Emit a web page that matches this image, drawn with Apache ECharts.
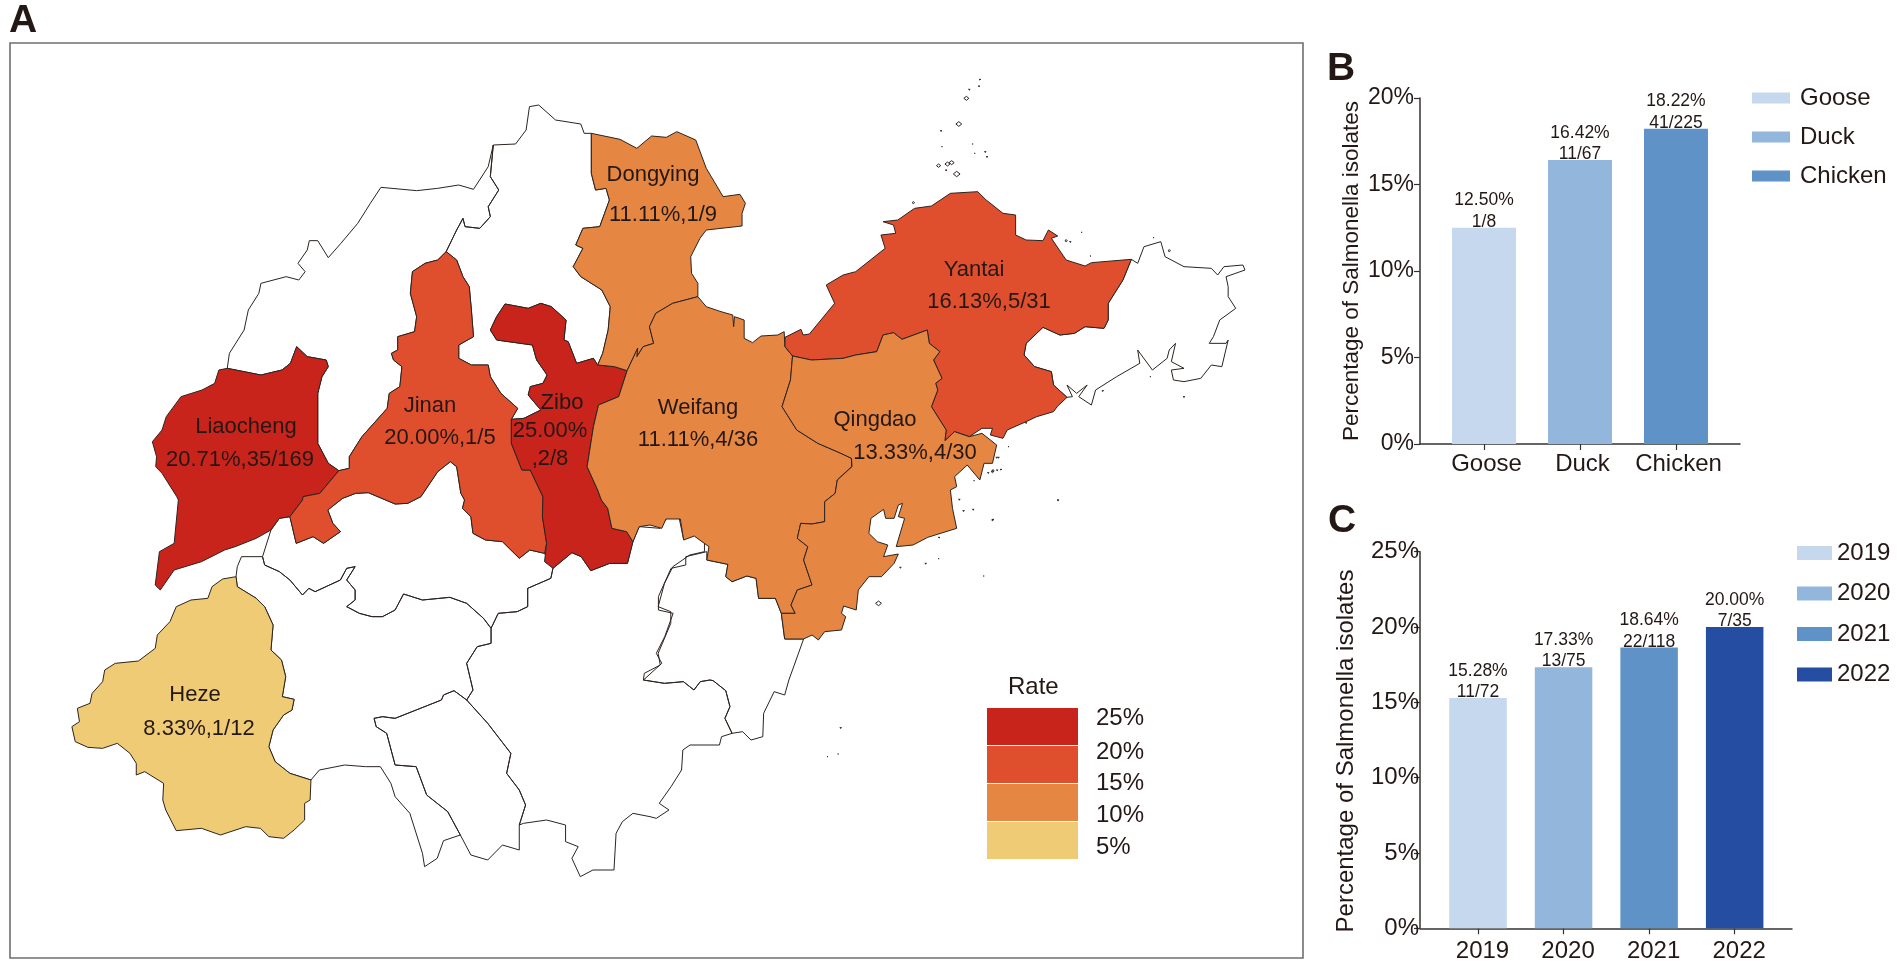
<!DOCTYPE html>
<html><head><meta charset="utf-8">
<script src="https://cdn.jsdelivr.net/npm/echarts@6/dist/echarts.min.js"></script>
<style>html,body{margin:0;padding:0;background:#fff}#c{width:1897px;height:969px}</style>
</head><body><div id="c"></div>
<script>
// ---------- chart values ----------
const cities = ['Liaocheng','Jinan','Zibo','Dongying','Weifang','Yantai','Qingdao','Heze'];
const cityRates = [20.71,20.00,25.00,11.11,11.11,16.13,13.33,8.33];
const cityTexts = [['20.71%,35/169'],['20.00%,1/5'],['25.00%',',2/8'],['11.11%,1/9'],['11.11%,4/36'],['16.13%,5/31'],['13.33%,4/30'],['8.33%,1/12']];
const rateLegendTicks = ['25%','20%','15%','10%','5%'];
const hostCategories = ['Goose','Duck','Chicken'];
const hostValues = [12.50,16.42,18.22];
const hostCounts = ['1/8','11/67','41/225'];
const yearCategories = ['2019','2020','2021','2022'];
const yearValues = [15.28,17.33,18.64,20.00];
const yearCounts = ['11/72','13/75','22/118','7/35'];
const hostColors = ['#C5D8EE','#93B6DD','#5F93C8'];
const yearColors = ['#C5D8EE','#93B6DD','#5F93C8','#254EA2'];
const rateColors = ['#C8241C','#DF4F2E','#E58642','#EFCB75'];

// ---------- base map outline (traced, in picture space) ----------
const C1=[0,0],C2=[620,50],C3=[50,500],C4=[650,450];
const P=(c,pts)=>pts.map(([x,y])=>[c[0]+x/2.376,c[1]+y/3]);
const frame=[[10,43],[1303,43],[1303,958],[10,958]];
const outline={
 Dezhou:[...P(C1,[[540,1105],[545,1060],[580,990],[590,930],[615,880],[620,850],[680,830],[710,840],[725,815],[708,790],[730,750],[735,722],[755,722],[780,773],[810,730],[850,670],[880,610],[905,562],[990,572],[1040,565],[1090,555],[1125,568],[1160,500],[1172,435],[1165,530],[1185,570],[1160,620],[1165,650],[1140,685],[1105,680],[1100,655],[1085,690],[1060,755],[1040,780],[1010,790],[980,815],[975,880],[990,950],[985,995],[945,1010],[945,1050],[930,1060],[935,1080],[955,1100],[950,1160],[925,1180],[920,1225],[860,1310],[830,1370],[830,1405],[805,1412],[780,1390],[755,1330],[755,1180],[765,1130],[780,1100],[775,1080],[730,1070],[705,1040],[690,1090],[670,1110],[620,1125]])],
 Binzhou:[...P(C1,[[1172,435],[1225,432],[1250,390],[1258,320],[1280,315],[1320,360],[1380,372],[1388,400],[1405,400],[1405,520],[1415,570],[1440,565],[1448,600],[1425,680],[1385,685],[1368,735],[1385,745],[1362,800],[1380,830],[1430,870],[1450,920],[1445,990],[1432,1060],[1420,1095],[1410,1075],[1370,1090],[1350,1025],[1340,1020],[1345,960],[1310,920],[1285,910],[1255,925],[1200,912],[1180,950],[1165,990],[1180,1020],[1265,1035],[1275,1080],[1300,1125],[1290,1150],[1260,1160],[1255,1185],[1285,1230],[1245,1255],[1215,1258],[1230,1225],[1190,1180],[1165,1130],[1160,1095],[1120,1095],[1090,1075],[1090,1035],[1125,1010],[1120,930],[1115,860],[1100,830],[1085,780],[1060,755],[1085,690],[1100,655],[1105,680],[1140,685],[1165,650],[1160,620],[1185,570],[1165,530]])],
 Taian:[...P(C3,[[525,90],[505,170],[510,195],[545,215],[570,240],[600,285],[615,265],[630,275],[690,240],[705,205],[725,200],[705,240],[725,270],[725,300],[705,320],[735,340],[765,350],[790,350],[820,330],[840,282],[885,300],[950,292],[990,310],[1030,355],[1048,385],[1065,340],[1110,335],[1135,320],[1135,265],[1190,235],[1195,205],[1175,160],[1140,150],[1115,175],[1075,125],[1035,120],[1005,100],[1000,50],[980,25],[985,0]]),...P(C1,[[1095,1480],[1085,1400],[1070,1385],[1040,1415],[1000,1490]]),...P(C3,[[850,10],[820,12]]),...P(C1,[[875,1478],[845,1480],[814,1495]]),...P(C3,[[660,30],[672,70],[690,95],[650,130],[625,110],[585,130],[570,50],[545,55]])],
 Jining:[...P(C3,[[442,230],[445,200],[455,170],[505,170],[510,195],[545,215],[570,240],[600,285],[615,265],[630,275],[690,240],[705,205],[725,200],[705,240],[725,270],[725,300],[705,320],[735,340],[765,350],[790,350],[820,330],[840,282],[885,300],[950,292],[990,310],[1030,355],[1048,385],[1048,430],[1015,440],[990,490],[1005,570],[990,600],[960,572],[935,585],[930,600],[870,630],[820,655],[790,650],[770,655],[775,680],[800,700],[820,795],[870,800],[895,885],[945,935],[975,1005],[935,1022],[920,1075],[890,1100],[885,1060],[855,940],[820,890],[810,850],[785,800],[750,800],[700,795],[640,810],[620,840],[570,820],[535,785],[520,740],[530,690],[555,645],[575,630],[580,598],[552,590],[560,530],[550,480],[525,450],[530,375],[510,320],[490,295],[445,260]])],
 Zaozhuang:[...P(C3,[[990,600],[1040,670],[1095,760],[1085,820],[1115,870],[1130,915],[1115,975],[1115,1050],[1075,1035],[1040,1080],[1000,1065],[975,1005],[945,935],[895,885],[870,800],[820,795],[800,700],[775,680],[770,655],[790,650],[820,655],[870,630],[930,600],[935,585],[960,572]])],
 Linyi:[...P(C3,[[1048,385],[1065,340],[1110,335],[1135,320],[1135,265],[1190,235],[1195,205],[1240,158],[1262,170],[1285,212],[1330,190],[1372,190],[1385,125],[1400,80],[1450,85],[1465,55],[1495,55],[1505,115],[1530,105],[1555,125],[1555,155],[1520,165],[1480,200],[1460,250],[1445,320],[1475,335],[1475,370],[1445,460],[1450,495],[1412,520],[1410,540],[1460,550],[1505,545],[1530,570],[1545,545],[1568,540]]),...P(C4,[[150,692],[180,722],[190,770],[178,805],[195,850],[170,860],[165,885],[95,885],[78,900],[75,960],[50,1010],[22,1060],[45,1080],[15,1105],[0,1100]]),...P(C3,[[1385,940],[1360,965],[1345,1000],[1340,1110],[1290,1110],[1260,1130],[1240,1075],[1255,1040],[1225,1025],[1225,975],[1180,960],[1125,970],[1115,975],[1130,915],[1115,870],[1085,820],[1095,760],[1040,670],[990,600],[1005,570],[990,490],[1015,440],[1048,430]])],
 Rizhao:[...P(C4,[[135,305],[85,320],[85,345],[50,355],[20,440],[20,480],[55,490],[35,560],[15,610],[28,640]]),...P(C3,[[1410,540],[1460,550],[1505,545],[1530,570],[1545,545],[1568,540]]),...P(C4,[[150,692],[180,722],[190,770],[178,805],[195,850],[220,845],[240,870],[268,860],[270,790],[295,725],[320,735],[330,690],[365,567],[320,567],[312,490],[298,445],[258,445],[252,385],[230,378],[195,395],[180,380],[185,343],[135,330]])],
 Weihai:[...P(C2,[[1215,628],[1230,640],[1245,590],[1285,575],[1295,620],[1340,650],[1405,655],[1420,675],[1435,650],[1480,645],[1485,660],[1440,680],[1445,710],[1445,740],[1463,775],[1425,810],[1410,860],[1400,880],[1440,880],[1445,870],[1430,950],[1405,945],[1380,985],[1340,995],[1315,990],[1310,960],[1340,955],[1310,935],[1320,880],[1305,900],[1300,925],[1265,960],[1230,900],[1235,940],[1180,980],[1130,1020],[1120,1065],[1090,1040],[1110,1005],[1085,1030],[1062,1005],[1075,1040],[1062,1042],[1030,1005],[1025,965],[985,950],[960,915],[965,880],[1005,832],[1045,855],[1080,850],[1105,830],[1150,835],[1160,810],[1160,760],[1195,690]])],
 Liaocheng:[...P(C1,[[705,1040],[730,1070],[775,1080],[780,1100],[765,1130],[755,1180],[755,1330],[780,1390],[805,1412],[760,1480],[720,1490]]),...P(C3,[[600,0],[570,50],[545,55],[525,90],[490,115],[440,140],[415,150],[360,185],[295,210],[262,270],[250,255],[260,155],[295,130],[305,0]]),...P(C1,[[420,1490],[385,1420],[370,1400],[372,1370],[362,1325],[385,1290],[395,1250],[430,1190],[480,1170],[510,1150],[520,1110],[540,1105],[620,1125],[670,1110],[690,1090]])],
 Jinan:[...P(C1,[[1060,755],[1085,780],[1100,830],[1115,860],[1120,930],[1125,1010],[1090,1035],[1090,1075],[1120,1095],[1160,1095],[1165,1130],[1190,1180],[1230,1225],[1215,1258],[1215,1330],[1240,1410],[1260,1410],[1290,1490]]),...P(C3,[[1170,50],[1180,130],[1175,160],[1140,150],[1115,175],[1075,125],[1035,120],[1005,100],[1000,50],[980,25],[985,0]]),...P(C1,[[1095,1480],[1085,1400],[1070,1385],[1040,1415],[1000,1490]]),...P(C3,[[850,10],[820,12]]),...P(C1,[[875,1478],[845,1480],[814,1495]]),...P(C3,[[660,30],[672,70],[690,95],[650,130],[625,110],[585,130],[570,50],[600,0]]),...P(C1,[[720,1490],[760,1480],[805,1412],[830,1405],[830,1370],[860,1310],[920,1225],[925,1180],[950,1160],[955,1100],[935,1080],[930,1060],[945,1050],[945,1010],[985,995],[990,950],[975,880],[980,815],[1010,790],[1040,780]])],
 Zibo:[...P(C1,[[1490,1112],[1460,1100],[1420,1095],[1410,1075],[1370,1090],[1350,1025],[1340,1020],[1345,960],[1310,920],[1285,910],[1255,925],[1200,912],[1180,950],[1165,990],[1180,1020],[1265,1035],[1275,1080],[1300,1125],[1290,1150],[1260,1160],[1255,1185],[1285,1230],[1245,1255],[1215,1258],[1215,1330],[1240,1410],[1260,1410],[1290,1490]]),...P(C3,[[1170,50],[1180,130],[1175,185],[1195,205],[1240,158],[1262,170],[1285,212],[1330,190],[1372,190],[1385,125],[1370,95],[1335,85],[1325,25],[1310,0]]),...P(C1,[[1420,1470],[1395,1400],[1410,1280],[1422,1215],[1470,1190]])],
 Dongying:[...P(C1,[[1405,400],[1405,520],[1415,570],[1440,565],[1448,600],[1425,680],[1385,685],[1368,735],[1385,745],[1362,800],[1380,830],[1430,870],[1450,920],[1445,990],[1432,1060],[1420,1095],[1460,1100],[1490,1112],[1515,1045]]),...P(C2,[[40,920],[55,890],[80,880],[70,830],[85,790],[125,760],[185,740],[185,700],[170,670],[168,620],[190,565],[205,540],[290,528],[290,490],[298,460],[285,433],[245,440],[205,355],[180,270],[135,245],[110,262],[75,258],[40,295],[0,268]])],
 Weifang:[...P(C2,[[185,740],[205,770],[240,785],[268,795],[270,830],[272,800],[295,810],[295,865],[315,878],[335,858],[375,855],[390,845],[392,890],[410,918],[405,990],[385,1070],[420,1140],[470,1180],[525,1210],[550,1225],[550,1250]]),...P(C4,[[480,50],[445,90],[440,130],[415,155],[415,215],[385,222],[358,220],[350,265],[375,290],[365,330],[385,405],[350,420],[335,465],[345,490],[312,490],[298,445],[258,445],[252,385],[230,378],[195,395],[180,380],[185,343],[135,330],[140,290],[105,258],[80,270],[72,207],[38,207],[28,235],[0,225]]),...P(C3,[[1400,80],[1385,125],[1370,95],[1335,85],[1325,25],[1310,0]]),...P(C1,[[1420,1470],[1395,1400],[1410,1280],[1422,1215],[1470,1190],[1490,1112],[1515,1045]]),...P(C2,[[40,920],[55,890],[80,880],[70,830],[85,790],[125,760]])],
 Yantai:[...P(C2,[[392,862],[430,838],[435,855],[450,852],[510,760],[490,705],[530,675],[560,665],[630,595],[620,555],[655,550],[650,525],[625,515],[660,510],[700,475],[740,468],[785,430],[850,425],[870,450],[910,490],[940,495],[940,555],[965,570],[1005,572],[1018,540],[1040,558],[1025,565],[1060,630],[1105,648],[1120,638],[1215,628],[1195,690],[1160,760],[1160,810],[1150,835],[1105,830],[1080,850],[1045,855],[1005,832],[965,880],[960,915],[985,950],[1025,965],[1030,1005],[1062,1042],[1040,1068],[1030,1085],[990,1100],[965,1115],[920,1140],[910,1165],[880,1155],[885,1135],[860,1135],[830,1160],[795,1145],[772,1172],[775,1140],[740,1070],[755,1020],[750,1000],[765,985],[745,930],[760,905],[735,880],[730,840],[670,868],[650,848],[625,855],[610,905],[560,915],[530,925],[455,930],[410,918],[392,890]])],
 Qingdao:[...P(C2,[[410,918],[455,930],[530,925],[560,915],[610,905],[625,855],[650,848],[670,868],[730,840],[735,880],[760,905],[745,930],[765,985],[750,1000],[755,1020],[740,1070],[775,1140],[772,1172],[795,1145],[830,1160],[860,1150],[895,1185],[885,1240],[865,1240],[855,1290],[825,1245],[795,1280],[800,1310],[785,1320],[790,1375],[800,1435]]),...P(C4,[[660,262],[625,285],[585,290],[605,205],[590,200],[600,160],[590,165],[580,205],[560,205],[555,178],[525,205],[520,250],[540,275],[565,285],[555,320],[590,312],[580,340],[550,380],[520,380],[495,420],[490,480],[460,468],[455,490],[465,500],[455,540],[415,545],[400,570],[385,555],[365,567],[320,567],[312,490],[345,490],[335,465],[350,420],[385,405],[365,330],[375,290],[350,265],[358,220],[385,222],[415,215],[415,155],[440,130],[445,90],[480,50]]),...P(C2,[[550,1250],[550,1225],[525,1210],[470,1180],[420,1140],[385,1070],[405,990]])],
 Heze:[...P(C3,[[442,230],[445,260],[490,295],[510,320],[530,375],[525,450],[550,480],[560,530],[552,590],[580,598],[575,630],[555,645],[530,690],[520,740],[535,785],[570,820],[620,840],[618,900],[605,910],[605,960],[580,990],[555,1015],[520,1010],[500,985],[465,980],[405,1005],[360,985],[300,992],[275,930],[268,900],[270,850],[225,815],[205,825],[205,790],[190,760],[160,730],[125,745],[90,742],[60,725],[52,680],[70,665],[65,625],[95,610],[100,580],[125,545],[130,510],[155,490],[210,483],[250,445],[255,405],[285,365],[300,320],[335,300],[375,295],[385,260],[410,237]])]
};
const isle=(c,list)=>list.map(([x,y,r])=>[P(c,[[x-r,y],[x,y-r],[x+r,y],[x,y+r]])]);
const islets=[...isle(C2,[[855,88,2],[853,108,2],[830,118,2],[823,145,6],[805,222,7],[763,242,2],[765,290,1],[838,282,1],[843,310,1],[868,305,2],[872,320,2],[757,347,5],[778,342,6],[788,338,6],[800,372,8],[775,360,2],[697,458,3],[1060,572,3],[1070,575,2],[1097,547,1],[1268,563,1],[1305,602,3],[1118,618,1],[1147,1022,2],[1340,1040,2],[1260,980,1],[965,1118,2],[923,1190,1],[895,1222,2],[885,1265,3],[875,1268,2],[905,1258,2],[1040,1350,1],[885,1410,2]]),...isle(C4,[[970,150,2],[815,208,2],[687,262,2],[595,352,2],[655,340,2],[686,326,1],[793,378,1],[543,460,7],[453,833,2],[422,920,1],[447,912,1],[735,148,2],[745,182,2],[768,178,2],[770,92,1],[828,22,2],[815,62,3],[825,60,2]])];
const features=[{type:'Feature',properties:{name:'frame'},geometry:{type:'Polygon',coordinates:[[...frame,frame[0]]]}},
 ...Object.keys(outline).map(n=>({type:'Feature',properties:{name:n},geometry:{type:'Polygon',coordinates:[[...outline[n],outline[n][0]]]}})),
 {type:'Feature',properties:{name:'islets'},geometry:{type:'MultiPolygon',coordinates:islets}}];
// label anchor [x, y], name shift relative to the rate line, line pitch
const labelPlace={Liaocheng:[240,443.5,6,33],Jinan:[440,422,-10,32],Zibo:[550,431,12,28],Dongying:[663,195,-10,40],Weifang:[698,424,0,32],Yantai:[989,286,-15,32],Qingdao:[915,436.5,-40,33],Heze:[199,712,-4,34]};
features.forEach(f=>{const p=labelPlace[f.properties.name];if(p)f.properties.cp=[p[0],p[1]];});
echarts.registerMap('shandong',{type:'FeatureCollection',features});

const FONT='"Liberation Sans",Arial,sans-serif',INK='#231815';
const mapData=[{name:'frame',value:NaN,itemStyle:{borderColor:'#6f6f6a',borderWidth:1.6}},...cities.map((c,i)=>{
 const [,,dx,lh]=labelPlace[c];
 return {name:c,value:cityRates[i],label:{show:true,
  formatter:['{n|'+c+'}',...cityTexts[i].map(t=>'{r|'+t+'}')].join('\n'),
  rich:{n:{fontSize:22,fontFamily:FONT,color:INK,lineHeight:lh,padding:dx>=0?[0,0,0,2*dx]:[0,-2*dx,0,0]},r:{fontSize:22,fontFamily:FONT,color:INK,lineHeight:lh}}}};
})];
const barSeries=(names,vals,counts,colors,xi,w)=>names.map((n,i)=>({name:n,type:'bar',xAxisIndex:xi,yAxisIndex:xi,barWidth:w,barGap:'-100%',
 data:[[i,vals[i]]],itemStyle:{color:colors[i]},silent:true,
 label:{show:true,position:'top',distance:-5,fontFamily:FONT,fontSize:17.5,lineHeight:21.5,color:INK,formatter:vals[i].toFixed(2)+'%\n'+counts[i]}}));
const axisLine={lineStyle:{color:'#333',width:1.5}};
const yAx=(gi,max,margin,fs)=>({type:'value',gridIndex:gi,min:0,max,interval:5,splitLine:{show:false},
 axisLine:{show:true,onZero:false,...axisLine},axisTick:{show:true,length:6,lineStyle:{color:'#333',width:1.2}},
 axisLabel:{formatter:'{value}%',margin,fontFamily:FONT,fontSize:fs,color:INK},
 name:'Percentage of Salmonella isolates',nameLocation:'middle',nameRotate:90,nameGap:gi?62:57,
 nameTextStyle:{fontFamily:FONT,fontSize:gi?24:22.5,color:INK,padding:gi?[0,22,0,0]:0}});
const xAx=(gi,cats,min,max,pad)=>({type:'value',gridIndex:gi,min,max,splitLine:{show:false},
 axisLine:{show:true,onZero:false,...axisLine},
 axisTick:{show:true,length:6,customValues:cats.map((_,i)=>i),lineStyle:{color:'#333',width:1.2}},
 axisLabel:{customValues:cats.map((_,i)=>i),formatter:v=>cats[v],showMinLabel:true,showMaxLabel:true,margin:gi?11:8,padding:[0,0,0,pad],fontFamily:FONT,fontSize:24,color:INK}});
const legendText=(t,y)=>({type:'text',silent:true,style:{text:t,x:1096,y,font:'24px '+FONT,fill:INK,textVerticalAlign:'middle'}});
const chart=echarts.init(document.getElementById('c'),null,{renderer:'canvas'});
chart.setOption({
 animation:false,backgroundColor:'#fff',
 title:[['A',9,2],['B',1327,50],['C',1328,502]].map(([text,left,top])=>({text,left,top,padding:0,textStyle:{fontFamily:FONT,fontWeight:'bold',fontSize:39,color:INK}})),
 grid:[{left:1420,top:98,width:320,height:346},{left:1420,top:551.7,width:372,height:376.6}],
 xAxis:[xAx(0,hostCategories,-0.667,2.667,5),xAx(1,yearCategories,-0.678,3.67,9)],
 yAxis:[yAx(0,20,6,23),yAx(1,25,1,24)],
 legend:[
  {data:hostCategories,orient:'vertical',left:1752,top:86,padding:0,itemWidth:38,itemHeight:11,itemGap:15,icon:'rect',selectedMode:false,textStyle:{fontFamily:FONT,fontSize:24,color:INK,padding:[0,0,0,5]}},
  {data:yearCategories,orient:'vertical',left:1797,top:541,padding:0,itemWidth:35,itemHeight:14,itemGap:16.5,icon:'rect',selectedMode:false,textStyle:{fontFamily:FONT,fontSize:24,color:INK}}
 ],
 visualMap:{type:'piecewise',seriesIndex:0,left:987,top:708,padding:0,itemWidth:91,itemHeight:37,itemGap:1,itemSymbol:'rect',showLabel:false,selectedMode:false,hoverLink:false,
  pieces:[{gt:20,lte:25,color:rateColors[0]},{gt:15,lte:20,color:rateColors[1]},{gt:10,lte:15,color:rateColors[2]},{gt:5,lte:10,color:rateColors[3]}],
  outOfRange:{color:'rgba(0,0,0,0)'}},
 graphic:[{type:'text',silent:true,style:{text:'Rate',x:1008,y:687,font:'24px '+FONT,fill:INK,textVerticalAlign:'middle'}},
  ...rateLegendTicks.map((t,i)=>legendText(t,[718,752,783,815,847][i]))],
 series:[{type:'map',map:'shandong',projection:{project:p=>p,unproject:p=>p},left:10,top:43,width:1293,height:915,roam:false,silent:true,showLegendSymbol:false,
   itemStyle:{areaColor:'rgba(0,0,0,0)',borderColor:'#2b2420',borderWidth:1},emphasis:{disabled:true},select:{disabled:true},label:{show:false},data:mapData},
  ...barSeries(hostCategories,hostValues,hostCounts,hostColors,0,64),
  ...barSeries(yearCategories,yearValues,yearCounts,yearColors,1,57.5)]
});
</script></body></html>
